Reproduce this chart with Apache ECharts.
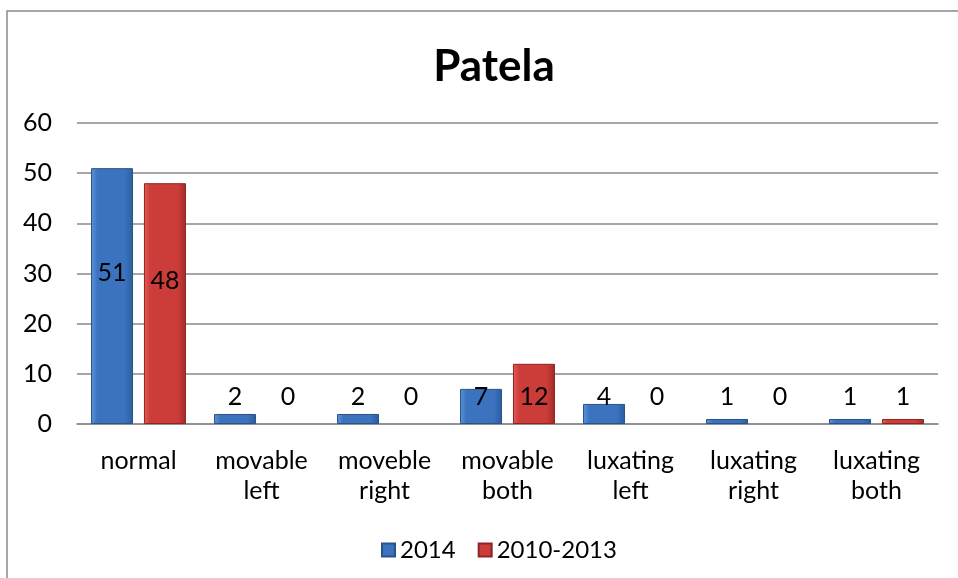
<!DOCTYPE html>
<html>
<head>
<meta charset="utf-8">
<script src="https://cdn.jsdelivr.net/npm/echarts@6/dist/echarts.min.js"></script>
<style>
  html, body { margin: 0; padding: 0; background: #fff; }
  #chart { width: 958px; height: 578px; }
</style>
</head>
<body>
<div id="chart"></div>
<script>
var categories = ['normal', 'movable\nleft', 'moveble\nright', 'movable\nboth', 'luxating\nleft', 'luxating\nright', 'luxating\nboth'];
var values2014 = [51, 2, 2, 7, 4, 1, 1];
var values2010 = [48, 0, 0, 12, 0, 0, 1];
var yTicks = [0, 10, 20, 30, 40, 50, 60];

var fontName = 'Lato';

// big bars: label inside a bit above middle, small ones at a fixed height over the base
function withLabels(arr) {
    return arr.map(function (v) {
        var item = { value: v };
        if (v >= 20) {
            item.label = { position: 'inside', offset: [0, -23] };
        } else {
            item.label = { position: 'insideBottom', distance: 15 };
        }
        if (v === 0) {
            item.itemStyle = { borderWidth: 0, color: 'rgba(0,0,0,0)' };
        }
        return item;
    });
}

// bevel look: light strip left, flat middle, dark strip right
function barFill(light, mid, dark) {
    return new echarts.graphic.LinearGradient(0, 0, 1, 0, [
        { offset: 0, color: light },
        { offset: 0.15, color: mid },
        { offset: 0.8, color: mid },
        { offset: 1, color: dark }
    ]);
}

var myChart = echarts.init(document.getElementById('chart'));
var option = {
    animation: false,
    title: {
        text: 'Patela',
        left: 489,
        top: 40,
        textAlign: 'center',
        textStyle: { fontFamily: fontName, fontWeight: 'bold', fontSize: 44, color: '#000' }
    },
    graphic: [{
        type: 'rect',
        shape: { x: 7, y: 11, width: 1000, height: 600 },
        style: { fill: 'none', stroke: '#8a8a8a', lineWidth: 1.5 },
        silent: true
    }],
    legend: {
        left: 376,
        top: 533,
        icon: 'rect',
        itemWidth: 13,
        itemHeight: 13,
        itemGap: 22,
        textStyle: { fontFamily: fontName, fontSize: 24, color: '#000' },
        data: ['2014', '2010-2013']
    },
    grid: { left: 77, right: 20, top: 123, bottom: 154 },
    xAxis: {
        type: 'category',
        data: categories,
        axisLine: { lineStyle: { color: '#8a8a8a', width: 1.5 } },
        axisTick: { show: false },
        axisLabel: {
            margin: 22,
            fontFamily: fontName,
            fontSize: 25,
            lineHeight: 30,
            color: '#000',
            interval: 0
        }
    },
    yAxis: {
        type: 'value',
        min: yTicks[0],
        max: yTicks[yTicks.length - 1],
        interval: 10,
        axisLine: { show: false },
        axisTick: { show: false },
        splitLine: { lineStyle: { color: '#8a8a8a', width: 1.5 } },
        axisLabel: { margin: 25, fontFamily: fontName, fontSize: 25, color: '#000' }
    },
    series: [
        {
            name: '2014',
            type: 'bar',
            barWidth: 42,
            barGap: '26%',
            data: withLabels(values2014),
            itemStyle: {
                color: barFill('#5e95dd', '#3b73bf', '#2c5c9e'),
                borderColor: '#2a5389',
                borderWidth: 1
            },
            label: { show: true, fontFamily: fontName, fontSize: 25, color: '#000' }
        },
        {
            name: '2010-2013',
            type: 'bar',
            barWidth: 42,
            data: withLabels(values2010),
            itemStyle: {
                color: barFill('#e65a55', '#cc3c39', '#a02b29'),
                borderColor: '#8c2523',
                borderWidth: 1
            },
            label: { show: true, fontFamily: fontName, fontSize: 25, color: '#000' }
        }
    ]
};
myChart.setOption(option);
</script>
</body>
</html>
